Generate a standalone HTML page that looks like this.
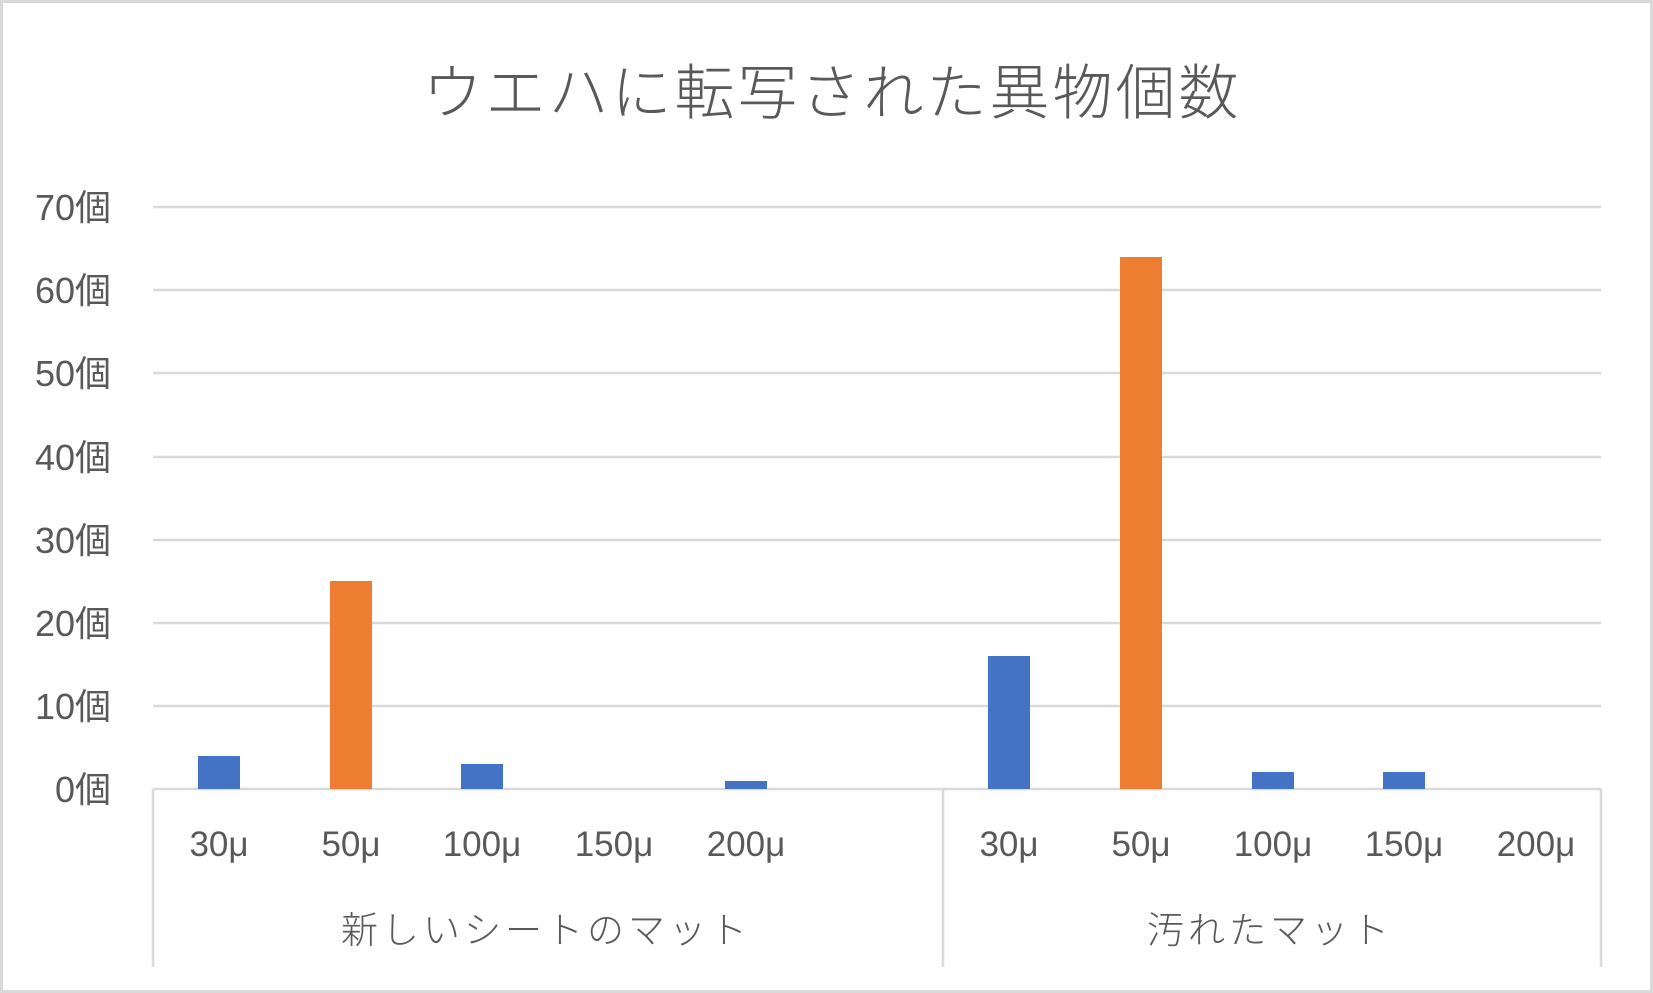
<!DOCTYPE html>
<html><head><meta charset="utf-8"><style>
body{margin:0;background:#fff}
svg{display:block}
text{font-family:"Liberation Sans","Noto Sans CJK JP",sans-serif;fill:#595959}
</style></head><body>
<svg width="1653" height="993" viewBox="0 0 1653 993" xmlns="http://www.w3.org/2000/svg">
<rect x="1.5" y="1.5" width="1650" height="990" fill="#fff" stroke="#d9d9d9" stroke-width="3"/>
<text x="832" y="114" font-size="60" letter-spacing="3" text-anchor="middle" font-weight="300">ウエハに転写された異物個数</text>
<g stroke="#d9d9d9" stroke-width="2.5">
<line x1="153" y1="207" x2="1601" y2="207"/>
<line x1="153" y1="290" x2="1601" y2="290"/>
<line x1="153" y1="373" x2="1601" y2="373"/>
<line x1="153" y1="457" x2="1601" y2="457"/>
<line x1="153" y1="540" x2="1601" y2="540"/>
<line x1="153" y1="623" x2="1601" y2="623"/>
<line x1="153" y1="706" x2="1601" y2="706"/>
<line x1="153" y1="789" x2="1601" y2="789"/>
<line x1="153" y1="789" x2="153" y2="967"/>
<line x1="943" y1="789" x2="943" y2="967"/>
<line x1="1601" y1="789" x2="1601" y2="967"/>
</g>
<g font-size="36" text-anchor="end">
<text x="111" y="220">70個</text>
<text x="111" y="303">60個</text>
<text x="111" y="386">50個</text>
<text x="111" y="470">40個</text>
<text x="111" y="553">30個</text>
<text x="111" y="636">20個</text>
<text x="111" y="719">10個</text>
<text x="111" y="802">0個</text>
</g>
<g fill="#4472c4">
<rect x="198" y="756" width="42" height="33"/>
<rect x="461" y="764" width="42" height="25"/>
<rect x="725" y="781" width="42" height="8"/>
<rect x="988" y="656" width="42" height="133"/>
<rect x="1252" y="772" width="42" height="17"/>
<rect x="1383" y="772" width="42" height="17"/>
</g>
<g fill="#ed7d31">
<rect x="330" y="581" width="42" height="208"/>
<rect x="1120" y="257" width="42" height="532"/>
</g>
<g font-size="35" text-anchor="middle">
<text x="219" y="856">30μ</text>
<text x="351" y="856">50μ</text>
<text x="482" y="856">100μ</text>
<text x="614" y="856">150μ</text>
<text x="746" y="856">200μ</text>
<text x="1009" y="856">30μ</text>
<text x="1141" y="856">50μ</text>
<text x="1273" y="856">100μ</text>
<text x="1404" y="856">150μ</text>
<text x="1536" y="856">200μ</text>
</g>
<g font-size="37" letter-spacing="4" text-anchor="middle" font-weight="300">
<text x="546" y="943">新しいシートのマット</text>
<text x="1270" y="943">汚れたマット</text>
</g>
</svg>
</body></html>
